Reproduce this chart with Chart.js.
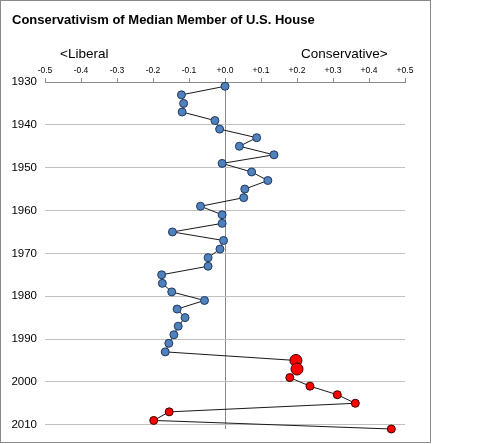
<!DOCTYPE html>
<html>
<head>
<meta charset="utf-8">
<script src="https://cdn.jsdelivr.net/npm/chart.js@4"></script>
<style>
  html, body { margin: 0; padding: 0; background: #fff; }
  #wrap { width: 480px; height: 444px; }
</style>
</head>
<body>
<div id="wrap"><canvas id="chart" width="480" height="444"></canvas></div>
<script>
// Congress years (start of each session, one point every two years)
const years = [1931, 1933, 1935, 1937, 1939, 1941, 1943, 1945, 1947, 1949,
               1951, 1953, 1955, 1957, 1959, 1961, 1963, 1965, 1967, 1969,
               1971, 1973, 1975, 1977, 1979, 1981, 1983, 1985, 1987, 1989,
               1991, 1993, 1995, 1997, 1999, 2001, 2003, 2005, 2007, 2009, 2011];
const medianScore = [0.000, -0.121, -0.115, -0.119, -0.028, -0.015, 0.088, 0.040, 0.136, -0.008,
                     0.074, 0.119, 0.055, 0.052, -0.068, -0.008, -0.008, -0.146, -0.004, -0.014,
                     -0.047, -0.047, -0.176, -0.174, -0.148, -0.057, -0.133, -0.111, -0.130, -0.142,
                     -0.156, -0.166, 0.197, 0.200, 0.180, 0.236, 0.312, 0.362, -0.155, -0.198, 0.462];
const redFromYear = 1995;
const largeYears = [1995, 1997];
const yearTicks = [1930, 1940, 1950, 1960, 1970, 1980, 1990, 2000, 2010];
const scoreTicks = [-0.5, -0.4, -0.3, -0.2, -0.1, 0, 0.1, 0.2, 0.3, 0.4, 0.5];

const points = years.map((y, i) => ({ x: medianScore[i], y: y }));
const fillColours = years.map(y => y >= redFromYear ? '#ff0000' : '#4f81bd');
const borderColours = years.map(y => y >= redFromYear ? '#3a0000' : '#1f3a60');
const radii = years.map(y => largeYears.includes(y) ? 6 : 4);

const font = "Arial, 'Liberation Sans', sans-serif";

const decorations = {
    id: 'decorations',
    beforeDraw(chart) {
        const c = chart.ctx;
        c.save();
        c.fillStyle = '#fff';
        c.fillRect(0, 0, chart.width, chart.height);
        c.strokeStyle = '#8a8a8a';
        c.lineWidth = 1;
        c.strokeRect(0.5, 0.5, 430, 442);
        c.restore();
    },
    afterDraw(chart) {
        const c = chart.ctx;
        c.save();
        c.fillStyle = '#000';
        c.textBaseline = 'middle';
        c.font = 'bold 13px ' + font;
        c.fillText('Conservativism of Median Member of U.S. House', 12, 20);
        c.font = '13.5px ' + font;
        c.fillText('<Liberal', 60, 54);
        c.fillText('Conservative>', 301, 54);
        c.restore();
    }
};

new Chart(document.getElementById('chart'), {
    type: 'scatter',
    data: {
        datasets: [{
            data: points,
            showLine: true,
            clip: false,
            borderColor: '#1a1a1a',
            borderWidth: 1,
            pointBackgroundColor: fillColours,
            pointBorderColor: borderColours,
            pointBorderWidth: 1,
            pointRadius: radii,
            pointHoverRadius: radii
        }]
    },
    options: {
        responsive: false,
        animation: false,
        events: [],
        layout: { padding: { left: 0, right: 75, top: 0, bottom: 15 } },
        plugins: {
            legend: { display: false },
            title: { display: false },
            tooltip: { enabled: false }
        },
        scales: {
            x: {
                type: 'linear',
                position: 'top',
                min: -0.5,
                max: 0.5,
                afterFit: (scale) => { scale.height = 82; },
                afterBuildTicks: (scale) => { scale.ticks = scoreTicks.map(v => ({ value: v })); },
                border: { display: true, color: '#8a8a8a', width: 1 },
                grid: {
                    drawOnChartArea: true,
                    drawTicks: true,
                    tickLength: 4,
                    tickColor: '#8a8a8a',
                    color: (ctx) => (ctx.tick && ctx.tick.value === 0) ? '#8a8a8a' : 'rgba(0,0,0,0)'
                },
                ticks: {
                    padding: 2,
                    color: '#000',
                    font: { family: font, size: 8.5 },
                    maxRotation: 0,
                    callback: (v) => (v < 0 ? '-' : '+') + Math.abs(v).toFixed(1)
                }
            },
            y: {
                type: 'linear',
                reverse: true,
                min: 1930,
                max: 2011,
                afterFit: (scale) => { scale.width = 45; },
                afterBuildTicks: (scale) => { scale.ticks = yearTicks.map(v => ({ value: v })); },
                border: { display: false },
                grid: { color: '#c0c0c0', drawTicks: false },
                ticks: {
                    padding: 8,
                    color: '#000',
                    font: { family: font, size: 11.5 },
                    callback: (v) => String(v)
                }
            }
        }
    },
    plugins: [decorations]
});
</script>
</body>
</html>
